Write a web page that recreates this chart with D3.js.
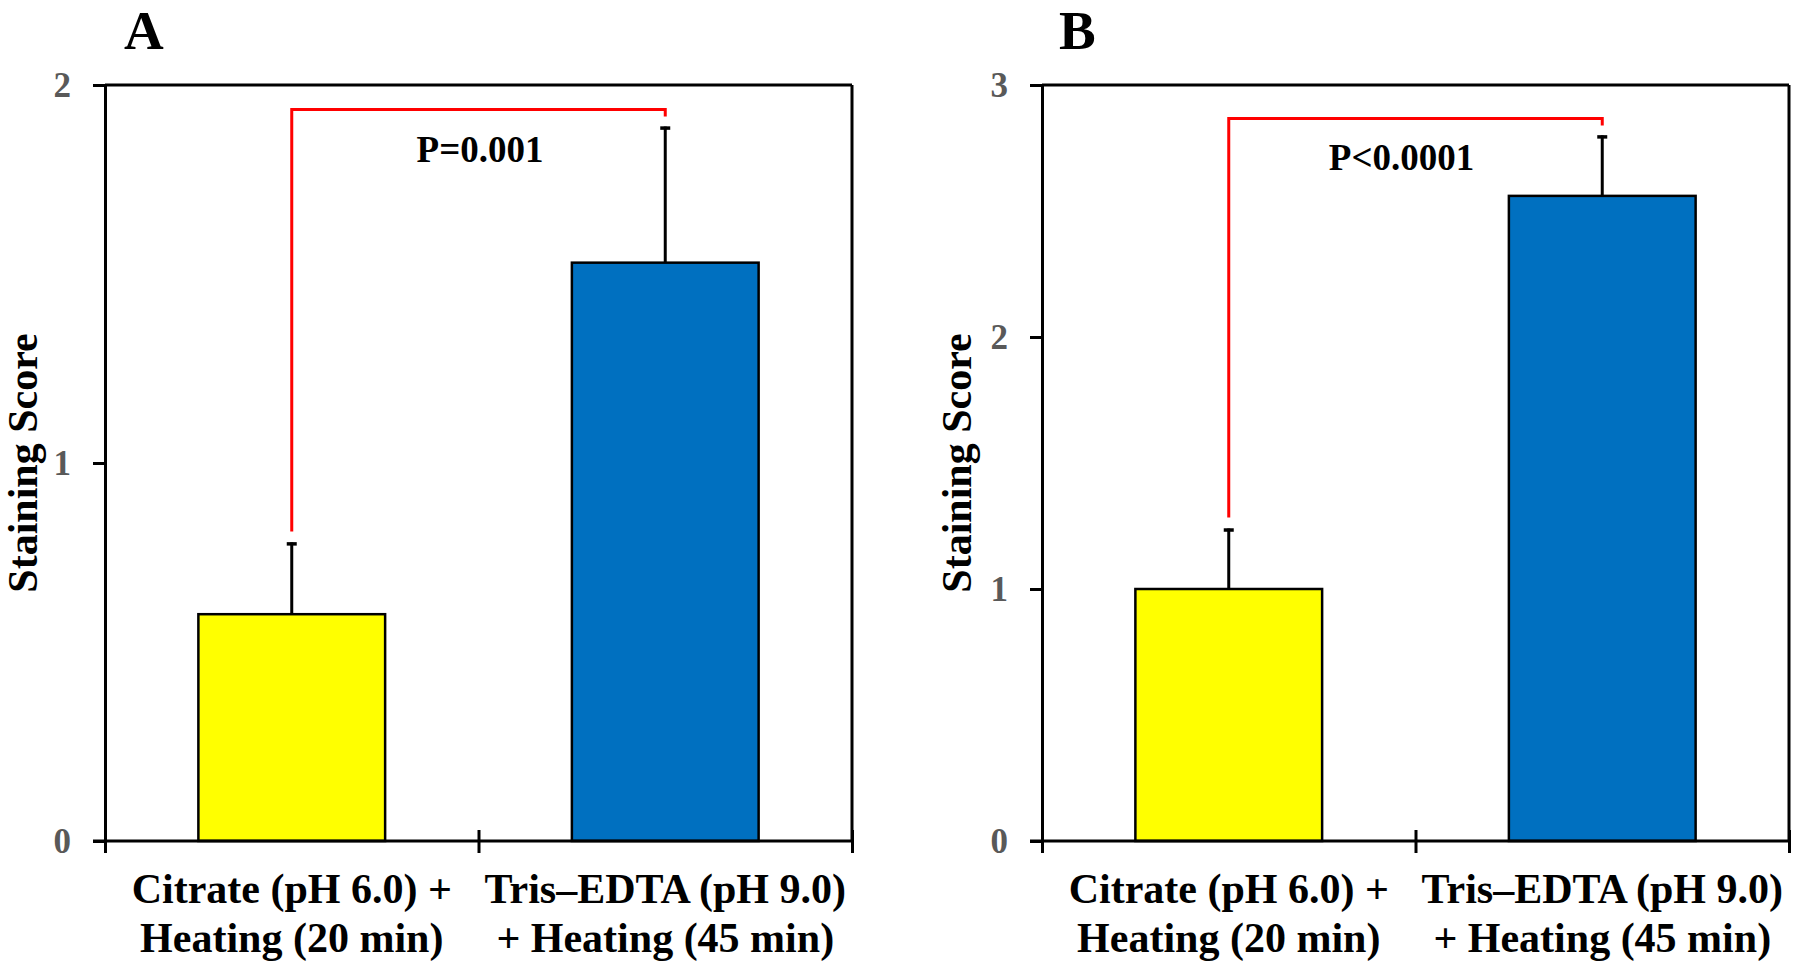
<!DOCTYPE html>
<html>
<head>
<meta charset="utf-8">
<script src="https://cdn.jsdelivr.net/npm/d3@7/dist/d3.min.js"></script>
<style>
  html, body { margin: 0; padding: 0; background: #fff; }
  svg { display: block; }
  text { font-family: "Liberation Serif", "Times New Roman", serif; font-weight: bold; }
</style>
</head>
<body>
<svg id="chart" width="1800" height="970"></svg>
<script>
// ---- data ----
const panelTitles = ["A", "B"];
const categories = [
  ["Citrate (pH 6.0) +", "Heating (20 min)"],
  ["Tris\u2013EDTA (pH 9.0)", "+ Heating (45 min)"]
];
const meansA = [0.60, 1.53];
const errorsA = [0.19, 0.36];
const meansB = [1.00, 2.56];
const errorsB = [0.24, 0.24];
const yTicksA = [0, 1, 2];
const yTicksB = [0, 1, 2, 3];
const pLabels = ["P=0.001", "P<0.0001"];
const yLabel = "Staining Score";
const barColors = ["#FFFF00", "#0070C0"];

// ---- layout ----
const panels = [
  { title: panelTitles[0], means: meansA, errors: errorsA, ticks: yTicksA, p: pLabels[0], x0: 105, x1: 852, labelX: 37, titleX: 124, pOffset: 1.5 },
  { title: panelTitles[1], means: meansB, errors: errorsB, ticks: yTicksB, p: pLabels[1], x0: 1042, x1: 1789, labelX: 971, titleX: 1059, pOffset: -14 }
];
const yTop = 85, yBot = 841;
const svg = d3.select("#chart");

panels.forEach(P => {
  const g = svg.append("g");
  const yMax = d3.max(P.ticks);
  const y = d3.scaleLinear().domain([0, yMax]).range([yBot, yTop]);
  const x = d3.scaleBand().domain(d3.range(categories.length))
    .range([P.x0, P.x1]).paddingInner(0.5).paddingOuter(0.25);
  const xEdge = d3.scaleLinear().domain([0, categories.length]).range([P.x0, P.x1]);

  // frame top & right
  g.append("line").attr("x1", P.x0).attr("x2", P.x1).attr("y1", yTop).attr("y2", yTop)
    .attr("stroke", "#000").attr("stroke-width", 3);
  g.append("line").attr("x1", P.x1).attr("x2", P.x1).attr("y1", yTop).attr("y2", yBot)
    .attr("stroke", "#000").attr("stroke-width", 3);

  // bars
  g.selectAll("rect.bar").data(P.means).enter().append("rect")
    .attr("x", (d, i) => x(i)).attr("width", x.bandwidth())
    .attr("y", d => y(d)).attr("height", d => yBot - y(d))
    .attr("fill", (d, i) => barColors[i]).attr("stroke", "#000").attr("stroke-width", 2.5);

  // error bars
  P.means.forEach((m, i) => {
    const cx = x(i) + x.bandwidth() / 2;
    const top = y(m + P.errors[i]);
    g.append("line").attr("x1", cx).attr("x2", cx).attr("y1", y(m)).attr("y2", top)
      .attr("stroke", "#000").attr("stroke-width", 3);
    g.append("line").attr("x1", cx - 5).attr("x2", cx + 5).attr("y1", top + 1.5).attr("y2", top + 1.5)
      .attr("stroke", "#000").attr("stroke-width", 3.5);
  });

  // significance bracket
  const cxs = P.means.map((m, i) => x(i) + x.bandwidth() / 2);
  const tops = P.means.map((m, i) => y(m + P.errors[i]));
  const by = d3.min(tops) - 17;
  g.append("path")
    .attr("d", `M${cxs[0]},${tops[0] - 11} L${cxs[0]},${by} L${cxs[1]},${by} L${cxs[1]},${tops[1] - 10}`)
    .attr("fill", "none").attr("stroke", "#FF0000").attr("stroke-width", 3);
  g.append("text").attr("x", (P.x0 + P.x1) / 2 + P.pOffset).attr("y", by + 52)
    .attr("text-anchor", "middle").attr("font-size", 37).attr("fill", "#000").text(P.p);

  // y axis
  const yAxis = d3.axisLeft(y).tickValues(P.ticks).tickSize(12).tickSizeOuter(0)
    .tickPadding(22).tickFormat(d3.format("d"));
  const ya = g.append("g").attr("transform", `translate(${P.x0},0)`).call(yAxis);
  ya.attr("font-size", null).attr("font-family", null);
  ya.select(".domain").attr("stroke", "#000").attr("stroke-width", 3);
  ya.selectAll(".tick line").attr("stroke", "#000").attr("stroke-width", 3);
  ya.selectAll(".tick text").attr("fill", "#595959")
    .style("font-size", "35px").style("font-weight", "bold")
    .style("font-family", "'Liberation Serif', 'Times New Roman', serif");

  // x axis (category boundaries)
  const xAxis = d3.axisBottom(xEdge).tickValues(d3.range(categories.length + 1))
    .tickSize(12).tickSizeOuter(0).tickFormat("");
  const xa = g.append("g").attr("transform", `translate(0,${yBot})`).call(xAxis);
  xa.select(".domain").attr("stroke", "#000").attr("stroke-width", 3)
    .attr("d", `M${P.x0 - 12},0H${P.x1}`);
  xa.selectAll(".tick line").attr("stroke", "#000").attr("stroke-width", 3)
    .attr("y1", -11).attr("y2", 12);

  // category labels
  categories.forEach((lines, i) => {
    const cx = x(i) + x.bandwidth() / 2;
    const t = g.append("text").attr("text-anchor", "middle").attr("font-size", 42).attr("fill", "#000");
    lines.forEach((ln, j) => {
      t.append("tspan").attr("x", cx).attr("y", 903 + j * 49).text(ln);
    });
  });

  // y label
  g.append("text")
    .attr("transform", `translate(${P.labelX},${(yTop + yBot) / 2}) rotate(-90)`)
    .attr("text-anchor", "middle").attr("font-size", 42).attr("fill", "#000").text(yLabel);

  // panel title
  g.append("text").attr("x", P.titleX).attr("y", 49).attr("font-size", 55).attr("fill", "#000").text(P.title);
});
</script>
</body>
</html>
